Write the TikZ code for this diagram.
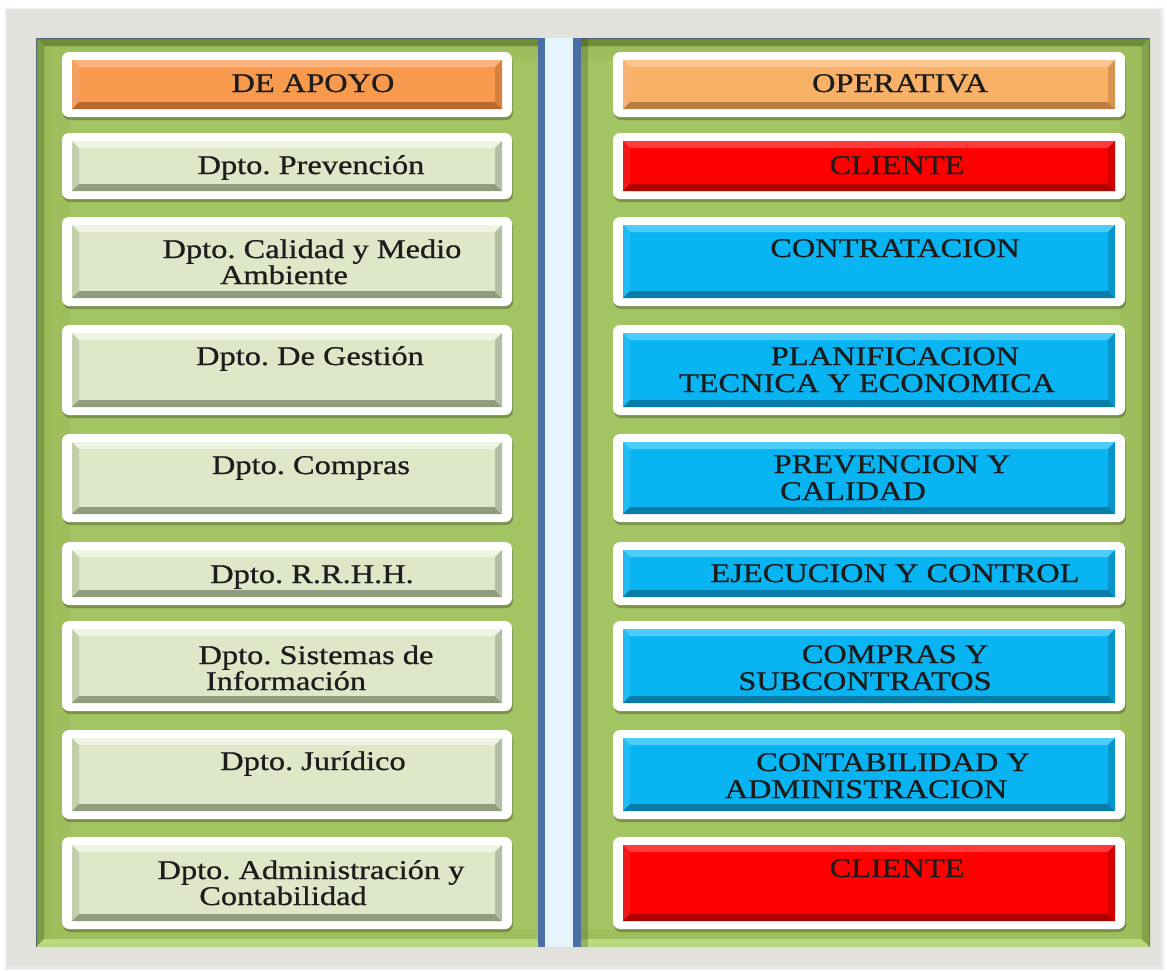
\documentclass[tikz,border=0pt]{standalone}
\usepackage{fontspec}
\setmainfont{Liberation Serif}[FakeStretch=1.2,FakeBold=0.8]
\usetikzlibrary{calc,shadows}
\definecolor{framegray}{HTML}{E3E1DB}
\definecolor{pgreen}{HTML}{9BBB59}
\definecolor{pgreenmid}{HTML}{A3C462}
\definecolor{pgreentop}{HTML}{6F8C3B}
\definecolor{pgreenleft}{HTML}{7E9B46}
\definecolor{pgreenbot}{HTML}{B9D97E}
\definecolor{pgreenright}{HTML}{84A24A}
\definecolor{pedge}{HTML}{4E6470}
\definecolor{divblue}{HTML}{4A6EA6}
\definecolor{divlight}{HTML}{E4F3FC}
\definecolor{txt}{HTML}{1C1C1C}
% left boxes
\definecolor{lf}{HTML}{DEE8C9}
\definecolor{lt}{HTML}{EEF4E2}
\definecolor{ll}{HTML}{C3CEAA}
\definecolor{lb}{HTML}{8F9D7E}
% orange
\definecolor{of}{HTML}{F89A4E}
\definecolor{ot}{HTML}{FBB47C}
\definecolor{ol}{HTML}{F3A064}
\definecolor{ob}{HTML}{B86A2E}
\definecolor{pf}{HTML}{F9B168}
\definecolor{pt}{HTML}{FCC690}
\definecolor{pl}{HTML}{F5B272}
\definecolor{pb}{HTML}{BC7E40}
% red
\definecolor{rf}{HTML}{FF0000}
\definecolor{rt}{HTML}{FF3A3A}
\definecolor{rl}{HTML}{F01818}
\definecolor{rb}{HTML}{B00000}
% cyan
\definecolor{cf}{HTML}{08B4F2}
\definecolor{ct}{HTML}{4CCCF8}
\definecolor{cl}{HTML}{22BCF4}
\definecolor{cb}{HTML}{0A7CA8}
% name, x1, y1, x2, y2, fill, top, left, bottom
\newcommand\bevbox[9]{%
  \node[frame, minimum width={#4-#2}, minimum height={#5-#3}] (#1) at ({(#2+#4)/2},{(#3+#5)/2}) {};
  \coordinate (#1a) at ($(#1.north west)+(10,8)$);
  \coordinate (#1b) at ($(#1.south east)+(-10,-8)$);
  \coordinate (#1c) at ($(#1a)+(7,7)$);
  \coordinate (#1d) at ($(#1b)+(-7,-7)$);
  \fill[#6] (#1a) rectangle (#1b);
  \fill[#7] (#1a) -- (#1a -| #1b) -- (#1c -| #1d) -- (#1c) -- cycle;
  \fill[#8] (#1a) -- (#1a |- #1b) -- (#1c |- #1d) -- (#1c) -- cycle;
  \fill[#9] (#1a |- #1b) -- (#1b) -- (#1d) -- (#1c |- #1d) -- cycle;
  \fill[#9!55!#6] (#1a -| #1b) -- (#1b) -- (#1d) -- (#1c -| #1d) -- cycle;
}
\begin{document}
\frenchspacing
\begin{tikzpicture}[x=1pt,y=-1pt,
  frame/.style={fill=white, rounded corners=7pt, inner sep=0pt, outer sep=0pt,
    drop shadow={opacity=0.35, shadow xshift=1pt, shadow yshift=-3pt, fill=black!70!pgreen}},
  lbl/.style={anchor=base, inner sep=0pt, text=txt, font=\fontsize{27}{27}\selectfont}]
\useasboundingbox (0,0) rectangle (1167,970);
\fill[white] (0,0) rectangle (1167,970);
% outer gray frame with soft shadow
\fill[black!6] (5,8) rectangle (1164,970);
\fill[black!9] (6,9) rectangle (1162,969);
\fill[framegray] (7,10) rectangle (1160,966);
% green panel
\fill[pgreen] (36,38) rectangle (1150,947);
\fill[pgreenmid] (70,60) rectangle (1120,930);
\fill[pgreen!60!pgreenmid] (52,48) rectangle (1136,940);
\fill[pgreenmid] (70,60) rectangle (1120,930);
\fill[pgreentop] (36,38) -- (1150,38) -- (1142,46) -- (44,46) -- cycle;
\fill[pgreenleft] (36,38) -- (36,947) -- (44,939) -- (44,46) -- cycle;
\fill[pgreenbot] (36,947) -- (1150,947) -- (1142,939) -- (44,939) -- cycle;
\fill[pgreenright] (1150,38) -- (1150,947) -- (1142,939) -- (1142,46) -- cycle;
\draw[pedge, line width=1.5pt] (36.7,947) -- (36.7,38.7) -- (1150,38.7);
\draw[pedge!70!pgreen, line width=1.2pt] (1149.4,38) -- (1149.4,947);
% divider
\fill[black!70!pgreen, opacity=0.25] (581,38) rectangle (588,947);
\fill[divblue] (538,38) rectangle (581,947);
\fill[divlight] (545,38) rectangle (573,947);
% left column
\bevbox{L1}{62}{52}{512}{117}{of}{ot}{ol}{ob}
\bevbox{L2}{62}{133}{512}{199}{lf}{lt}{ll}{lb}
\bevbox{L3}{62}{217}{512}{306}{lf}{lt}{ll}{lb}
\bevbox{L4}{62}{325}{512}{415}{lf}{lt}{ll}{lb}
\bevbox{L5}{62}{434}{512}{522}{lf}{lt}{ll}{lb}
\bevbox{L6}{62}{542}{512}{605}{lf}{lt}{ll}{lb}
\bevbox{L7}{62}{621}{512}{711}{lf}{lt}{ll}{lb}
\bevbox{L8}{62}{730}{512}{819}{lf}{lt}{ll}{lb}
\bevbox{L9}{62}{837}{512}{929}{lf}{lt}{ll}{lb}
% right column
\bevbox{R1}{613}{52}{1125}{117}{pf}{pt}{pl}{pb}
\bevbox{R2}{613}{133}{1125}{199}{rf}{rt}{rl}{rb}
\bevbox{R3}{613}{217}{1125}{306}{cf}{ct}{cl}{cb}
\bevbox{R4}{613}{325}{1125}{415}{cf}{ct}{cl}{cb}
\bevbox{R5}{613}{434}{1125}{522}{cf}{ct}{cl}{cb}
\bevbox{R6}{613}{542}{1125}{605}{cf}{ct}{cl}{cb}
\bevbox{R7}{613}{621}{1125}{711}{cf}{ct}{cl}{cb}
\bevbox{R8}{613}{730}{1125}{819}{cf}{ct}{cl}{cb}
\bevbox{R9}{613}{837}{1125}{929}{rf}{rt}{rl}{rb}
% left labels
\node[lbl] (tL1) at (313,92) {DE APOYO};
\node[lbl] (tL2) at (311,174) {Dpto. Prevención};
\node[lbl] (tL3a) at (312,258) {Dpto. Calidad y Medio};
\node[lbl] (tL3b) at (284,284) {Ambiente};
\node[lbl] (tL4) at (310,365) {Dpto. De Gestión};
\node[lbl] (tL5) at (311,474) {Dpto. Compras};
\node[lbl] (tL6) at (312,583) {Dpto. R.R.H.H.};
\node[lbl] (tL7a) at (316,664) {Dpto. Sistemas de};
\node[lbl] (tL7b) at (286,690) {Información};
\node[lbl] (tL8) at (313,770) {Dpto. Jurídico};
\node[lbl] (tL9a) at (311,879) {Dpto. Administración y};
\node[lbl] (tL9b) at (283,905) {Contabilidad};
% right labels
\node[lbl] (tR1) at (900,92) {OPERATIVA};
\node[lbl] (tR2) at (897,174) {CLIENTE};
\node[lbl] (tR3) at (895,257) {CONTRATACION};
\node[lbl] (tR4a) at (895,365) {PLANIFICACION};
\node[lbl] (tR4b) at (867,392) {TECNICA Y ECONOMICA};
\node[lbl] (tR5a) at (892,473) {PREVENCION Y};
\node[lbl] (tR5b) at (853,500) {CALIDAD};
\node[lbl] (tR6) at (895,582) {EJECUCION Y CONTROL};
\node[lbl] (tR7a) at (895,663) {COMPRAS Y};
\node[lbl] (tR7b) at (865,690) {SUBCONTRATOS};
\node[lbl] (tR8a) at (893,771) {CONTABILIDAD Y};
\node[lbl] (tR8b) at (866,798) {ADMINISTRACION};
\node[lbl] (tR9) at (897,877) {CLIENTE};
\end{tikzpicture}
\end{document}
